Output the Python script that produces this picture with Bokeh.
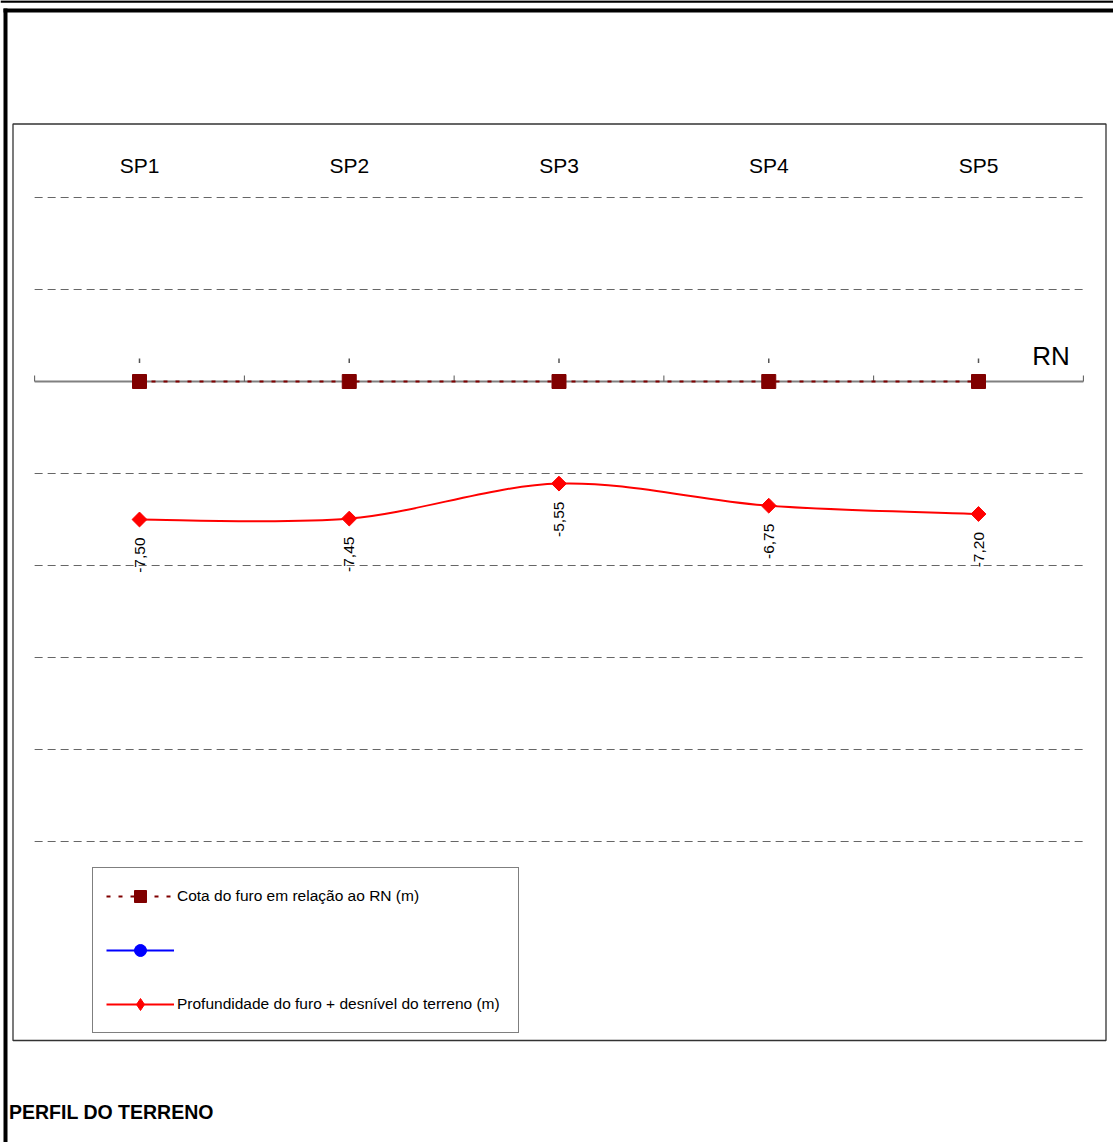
import numpy as np
from bokeh.plotting import figure
from bokeh.models import Range1d, ColumnDataSource, Legend, LegendItem, BoxAnnotation
from bokeh.core.properties import value
from bokeh.embed import file_html
from bokeh.resources import INLINE

# ---------------- data ----------------
categories = ["SP1", "SP2", "SP3", "SP4", "SP5"]
cota_rn = [0.0, 0.0, 0.0, 0.0, 0.0]                    # Cota do furo em relação ao RN (m)
profundidade = [-7.50, -7.45, -5.55, -6.75, -7.20]     # Profundidade do furo + desnível do terreno (m)
serie_azul = [np.nan, np.nan, np.nan, np.nan, np.nan]  # blue series (no values shown)
grid_levels = [10, 5, -5, -10, -15, -20, -25]
legend_labels = ["Cota do furo em relação ao RN (m)", "",
                 "Profundidade do furo + desnível do terreno (m)"]
rn_text = "RN"
title_text = "PERFIL DO TERRENO"

# ---------------- layout (pixel geometry) ----------------
W, H = 1113, 1142
X0_PX, XS = 34.125, 209.75     # pixel of x=0, pixels per category
Y0_PX, YS = 381.0, 18.4        # pixel of y=0, pixels per metre


def dx(px):
    return (px - X0_PX) / XS


def dy(py):
    return (Y0_PX - py) / YS


FONT = "Liberation Sans"

p = figure(width=W, height=H, output_backend="svg", toolbar_location=None,
           x_axis_location=None, y_axis_location=None, title=None,
           x_range=Range1d(dx(0), dx(W)), y_range=Range1d(dy(H), dy(0)),
           min_border=0, outline_line_color=None)
p.grid.visible = False

n = len(categories)
xs = np.arange(n) + 0.5

# outer frame lines
p.segment(x0=[dx(0)], x1=[dx(W)], y0=[dy(1)], y1=[dy(1)], line_color="black", line_width=2.5)
p.segment(x0=[dx(3)], x1=[dx(W)], y0=[dy(10)], y1=[dy(10)], line_color="black", line_width=4)
p.segment(x0=[dx(5)], x1=[dx(5)], y0=[dy(8)], y1=[dy(H)], line_color="black", line_width=4)

# inner chart box
p.add_layout(BoxAnnotation(left=dx(12.5), right=dx(1105.5), top=dy(123.5), bottom=dy(1040),
                           fill_alpha=0, line_color="#333333", line_alpha=1, line_width=1.3))

# dashed grid lines
p.segment(x0=[0] * len(grid_levels), x1=[n] * len(grid_levels), y0=grid_levels, y1=grid_levels,
          line_color="#666666", line_width=1.2, line_dash="8 5")

# RN axis line with ticks at category boundaries
p.segment(x0=[0], x1=[n], y0=[0], y1=[0], line_color="#808080", line_width=2)
bounds = list(range(n + 1))
p.segment(x0=bounds, x1=bounds, y0=[0] * (n + 1), y1=[dy(375)] * (n + 1),
          line_color="#555555", line_width=1)
# small marks above each borehole
p.segment(x0=xs, x1=xs, y0=[dy(358)] * n, y1=[dy(362.5)] * n,
          line_color="#555555", line_width=1.5)

# series 1: cota do furo (dark red dotted + squares)
src1 = ColumnDataSource(dict(x=xs, y=cota_rn))
r1l = p.line("x", "y", source=src1, line_color="#800000", line_width=2, line_dash="4 8")
r1m = p.scatter("x", "y", source=src1, marker="square", size=14,
                fill_color="#800000", line_color="#800000")

# series 2: blue (no values)
src2 = ColumnDataSource(dict(x=xs, y=serie_azul))
r2l = p.line("x", "y", source=src2, line_color="#0000ff", line_width=2)
r2m = p.scatter("x", "y", source=src2, marker="circle", size=11,
                fill_color="#0000ff", line_color="#0000ff")

# series 3: profundidade (smoothed red line + diamonds)
xe = [xs[0]] + list(xs) + [xs[-1]]
ye = [profundidade[0]] + list(profundidade) + [profundidade[-1]]
bez = dict(
    x0=xs[:-1], y0=profundidade[:-1], x1=xs[1:], y1=profundidade[1:],
    cx0=[xe[i + 1] + (xe[i + 2] - xe[i]) / 6 for i in range(n - 1)],
    cy0=[ye[i + 1] + (ye[i + 2] - ye[i]) / 6 for i in range(n - 1)],
    cx1=[xe[i + 2] - (xe[i + 3] - xe[i + 1]) / 6 for i in range(n - 1)],
    cy1=[ye[i + 2] - (ye[i + 3] - ye[i + 1]) / 6 for i in range(n - 1)],
)
r3l = p.bezier(source=ColumnDataSource(bez), x0="x0", y0="y0", x1="x1", y1="y1",
               cx0="cx0", cy0="cy0", cx1="cx1", cy1="cy1",
               line_color="#ff0000", line_width=2)
src3 = ColumnDataSource(dict(x=xs, y=profundidade,
                             lab=[f"{v:.2f}".replace(".", ",") for v in profundidade]))
# diamond marker (used by the legend), covered by the rotated square in the plot
r3d = p.scatter("x", "y", source=src3, marker="diamond", size=13,
                fill_color="#ff0000", line_color="#ff0000")
r3m = p.scatter("x", "y", source=src3, marker="square", angle=np.pi / 4, size=10.5,
                fill_color="#ff0000", line_color="#ff0000")

# value labels (rotated)
p.text("x", "y", text="lab", source=src3, angle=np.pi / 2, text_align="right",
       text_baseline="middle", y_offset=18, text_font=value(FONT),
       text_font_size="15.5px", text_color="black")

# borehole names
p.text(x=xs, y=[dy(164.5)] * n, text=categories, text_align="center",
       text_baseline="middle", text_font=value(FONT), text_font_size="21px",
       text_color="black")

# RN label
p.text(x=[dx(1050.5)], y=[dy(355)], text=[rn_text], text_align="center",
       text_baseline="middle", text_font=value(FONT), text_font_size="26px",
       text_color="black")

# bottom title
p.text(x=[dx(8.5)], y=[dy(1111)], text=[title_text], text_align="left",
       text_baseline="middle", text_font=value(FONT), text_font_size="19.5px",
       text_font_style="bold", text_color="black")

# legend
legend = Legend(items=[
    LegendItem(label=value(legend_labels[0]), renderers=[r1l, r1m]),
    LegendItem(label=value(legend_labels[1]), renderers=[r2l, r2m]),
    LegendItem(label=value(legend_labels[2]), renderers=[r3l, r3d]),
], location=(92, H - 1033), orientation="vertical",
    glyph_width=68, glyph_height=30, label_standoff=3, label_width=328,
    padding=13, spacing=24, margin=0,
    label_text_font=FONT, label_text_font_size="15.5px", label_text_color="black",
    border_line_color="black", border_line_width=1, background_fill_color="white",
    background_fill_alpha=1)
p.add_layout(legend, "center")

open("out.html", "w").write(file_html(p, INLINE))
